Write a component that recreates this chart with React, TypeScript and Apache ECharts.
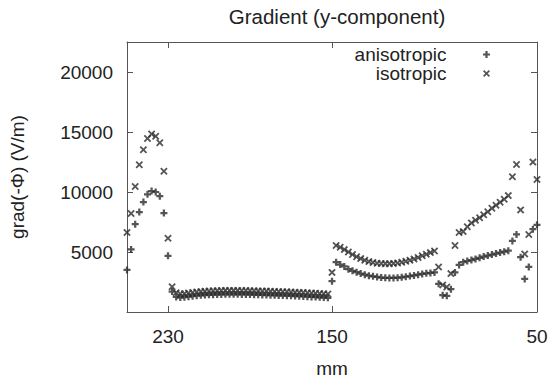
import React, { useEffect, useRef } from "react";
import * as echarts from "echarts";

// Positions along the scan (mm)
const positionsMm = [
  250, 248, 246, 244, 242, 240, 238, 236, 234, 232, 230, 228, 226, 224, 222, 220, 218, 216, 214, 212,
  210, 208, 206, 204, 202, 200, 198, 196, 194, 192, 190, 188, 186, 184, 182, 180, 178, 176, 174, 172,
  170, 168, 166, 164, 162, 160, 158, 156, 154, 152, 150, 148, 146, 144, 142, 140, 138, 136, 134, 132,
  130, 128, 126, 124, 122, 120, 118, 116, 114, 112, 110, 108, 106, 104, 102, 100, 98, 96, 94, 92,
  90, 88, 86, 84, 82, 80, 78, 76, 74, 72, 70, 68, 66, 64, 62, 60, 58, 56, 54, 52, 50,
];

// Gradient y-component (V/m)
const anisotropic = [
  3510, 5215, 7320, 8325, 9160, 9810, 10080, 10000, 9650, 8245, 4680, 1700, 1250, 1200, 1230, 1280, 1320, 1360, 1390, 1410,
  1430, 1440, 1450, 1460, 1470, 1470, 1470, 1470, 1465, 1460, 1450, 1440, 1430, 1420, 1410, 1400, 1390, 1380, 1370, 1360,
  1345, 1330, 1315, 1300, 1280, 1260, 1240, 1220, 1200, 1180, 2570, 4150, 3950, 3800, 3570, 3430, 3320, 3200, 3110, 3030,
  2970, 2920, 2870, 2850, 2840, 2840, 2860, 2890, 2940, 2990, 3050, 3110, 3170, 3220, 3260, 3300, 2350, 1400, 1350, 1900,
  3300, 3920, 4150, 4250, 4330, 4420, 4520, 4620, 4700, 4790, 4870, 4950, 5030, 5110, 5920, 6460, 4565, 2755, 3755, 6900, 7270,
];

const isotropic = [
  6625, 8215, 10460, 12270, 13515, 14455, 14840, 14650, 14110, 11730, 6140, 2110, 1600, 1520, 1530, 1580, 1630, 1670, 1700, 1730,
  1750, 1770, 1780, 1790, 1800, 1800, 1800, 1800, 1795, 1790, 1780, 1770, 1760, 1750, 1740, 1730, 1715, 1700, 1690, 1680,
  1665, 1650, 1635, 1620, 1600, 1580, 1560, 1540, 1520, 1500, 3300, 5540, 5400, 5200, 5000, 4790, 4600, 4450, 4310, 4200,
  4120, 4070, 4040, 4030, 4030, 4050, 4090, 4150, 4230, 4320, 4420, 4540, 4680, 4820, 4950, 5080, 3750, 2250, 2080, 3200,
  5540, 6625, 6700, 7100, 7420, 7650, 7850, 8100, 8350, 8650, 8900, 9150, 9400, 9700, 11270, 12300, 8510, 4840, 6460, 12490, 11050,
];

const xTickValues = [230, 150, 50];
const yTickValues = [5000, 10000, 15000, 20000];

const PLUS = "path://M3.4,0H6.6V3.4H10V6.6H6.6V10H3.4V6.6H0V3.4H3.4Z";
const CROSS =
  "path://M0,1.7L1.7,0L5,3.3L8.3,0L10,1.7L6.7,5L10,8.3L8.3,10L5,6.7L1.7,10L0,8.3L3.3,5Z";

const FONT = "'Liberation Sans', Arial, Helvetica, sans-serif";
const TEXT = "#222";
const AXIS = "#555";
const MARK = "#2a2a2a";

export default function App() {
  const ref = useRef<HTMLDivElement>(null);

  useEffect(() => {
    if (!ref.current) return;
    const chart = echarts.init(ref.current, undefined, { renderer: "svg" });

    const axisLineStyle = { color: AXIS, width: 1 };
    const tickStyle = { color: AXIS, width: 1 };
    const labelStyle = { fontSize: 19, color: TEXT, fontFamily: FONT };
    const legendText = { ...labelStyle, lineHeight: 18 };

    chart.setOption({
      animation: false,
      backgroundColor: "#fff",
      title: {
        text: "Gradient (y-component)",
        left: 332,
        top: 1,
        textAlign: "center",
        textStyle: { fontSize: 20.5, fontWeight: "normal", color: TEXT, fontFamily: FONT },
      },
      legend: [
        {
          data: [{ name: "anisotropic", icon: PLUS }],
          right: 65,
          top: 45,
          orient: "vertical",
          align: "right",
          itemWidth: 70,
          itemHeight: 7,
          padding: 0,
          selectedMode: false,
          textStyle: legendText,
        },
        {
          data: [{ name: "isotropic", icon: CROSS }],
          right: 65,
          top: 64,
          orient: "vertical",
          align: "right",
          itemWidth: 70,
          itemHeight: 7,
          padding: 0,
          selectedMode: false,
          textStyle: legendText,
        },
      ],
      grid: { left: 127, right: 18, top: 42, bottom: 64, containLabel: false },
      xAxis: [
        {
          type: "value",
          min: 50,
          max: 250,
          inverse: true,
          position: "bottom",
          name: "mm",
          nameLocation: "middle",
          nameGap: 47,
          nameTextStyle: labelStyle,
          axisLine: { show: true, onZero: false, lineStyle: axisLineStyle },
          axisTick: { show: true, inside: true, length: 6, customValues: xTickValues, lineStyle: tickStyle },
          axisLabel: { ...labelStyle, margin: 15, customValues: xTickValues },
          splitLine: { show: false },
        },
        {
          type: "value",
          min: 50,
          max: 250,
          inverse: true,
          position: "top",
          axisLine: { show: true, onZero: false, lineStyle: axisLineStyle },
          axisTick: { show: true, inside: true, length: 6, customValues: xTickValues, lineStyle: tickStyle },
          axisLabel: { show: false },
          splitLine: { show: false },
        },
      ],
      yAxis: [
        {
          type: "value",
          min: 0,
          max: 22500,
          position: "left",
          name: "grad(-Φ) (V/m)",
          nameLocation: "middle",
          nameRotate: 90,
          nameGap: 100,
          nameTextStyle: labelStyle,
          axisLine: { show: true, onZero: false, lineStyle: axisLineStyle },
          axisTick: { show: true, inside: true, length: 6, customValues: yTickValues, lineStyle: tickStyle },
          axisLabel: {
            ...labelStyle,
            margin: 14,
            customValues: yTickValues,
            formatter: (v: number) => String(v),
          },
          splitLine: { show: false },
        },
        {
          type: "value",
          min: 0,
          max: 22500,
          position: "right",
          axisLine: { show: true, onZero: false, lineStyle: axisLineStyle },
          axisTick: { show: true, inside: true, length: 6, customValues: yTickValues, lineStyle: tickStyle },
          axisLabel: { show: false },
          splitLine: { show: false },
        },
      ],
      series: [
        {
          name: "anisotropic",
          type: "scatter",
          symbol: PLUS,
          symbolSize: 7,
          itemStyle: { color: MARK },
          data: positionsMm.map((x, i) => [x, anisotropic[i]]),
        },
        {
          name: "isotropic",
          type: "scatter",
          symbol: CROSS,
          symbolSize: 7.5,
          itemStyle: { color: MARK },
          data: positionsMm.map((x, i) => [x, isotropic[i]]),
        },
      ],
    });

    return () => chart.dispose();
  }, []);

  return (
    <div
      ref={ref}
      style={{ position: "fixed", left: 0, top: 0, width: 555, height: 383, background: "#fff" }}
    />
  );
}
